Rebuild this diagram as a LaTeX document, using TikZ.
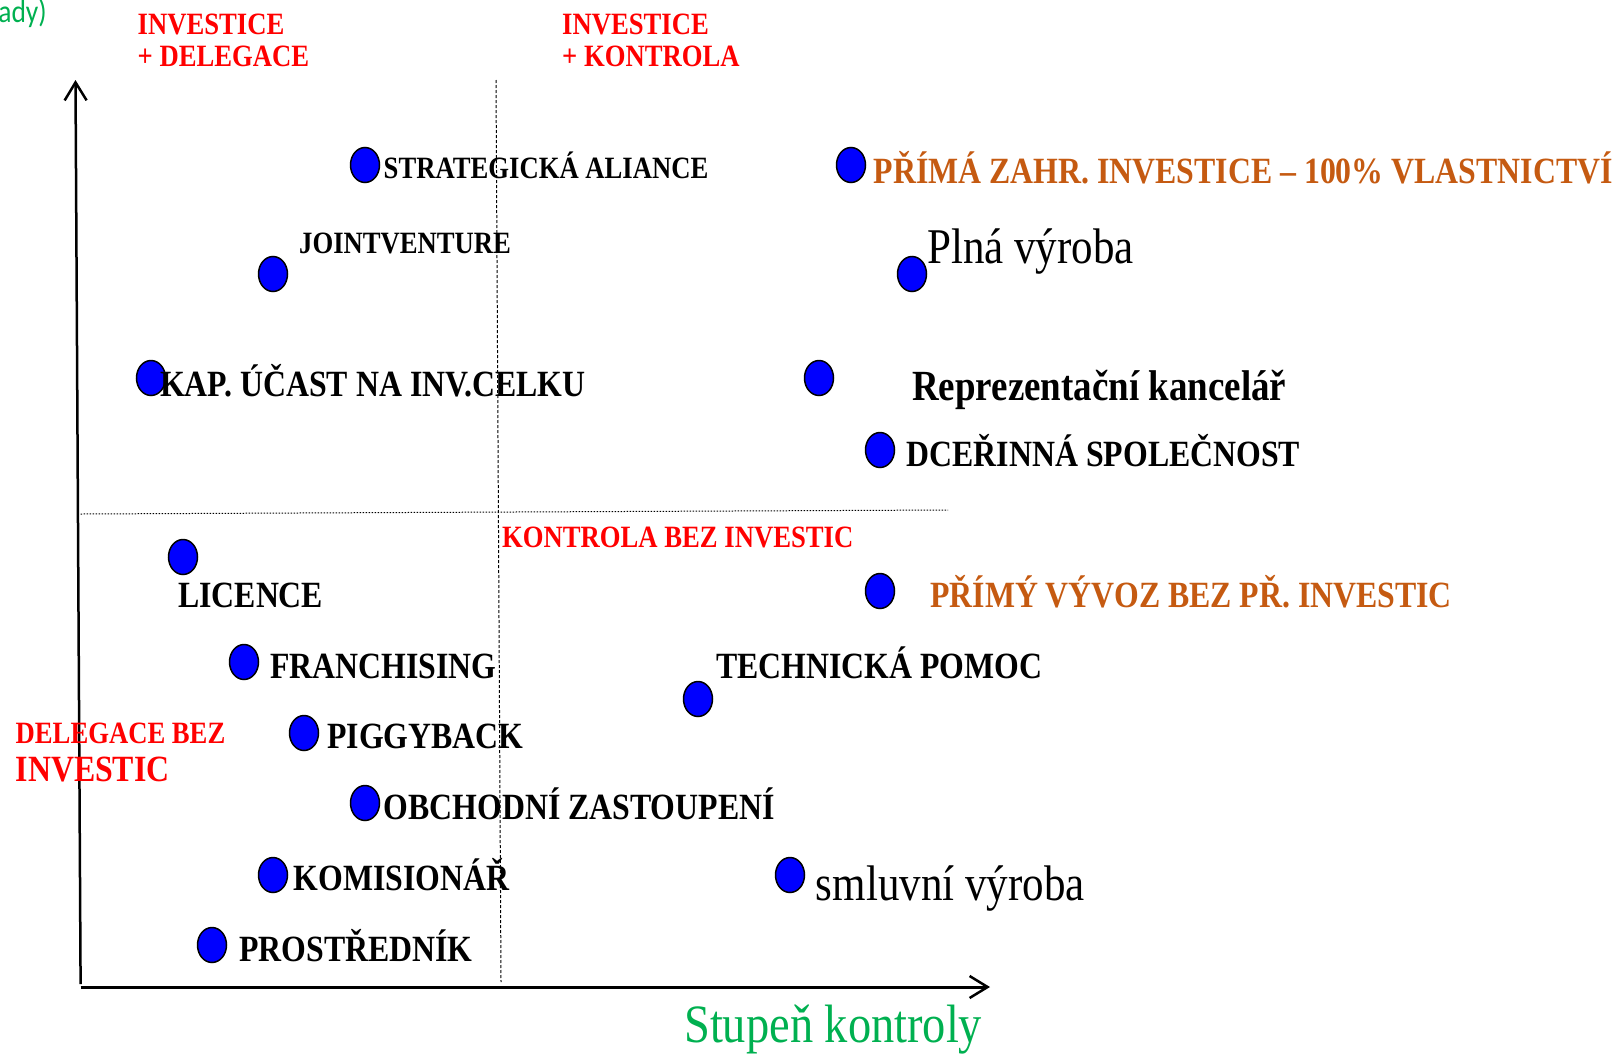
\documentclass[tikz,border=0pt]{standalone}
\usepackage{fontspec}
\setmainfont{Liberation Serif}[FakeStretch=0.86]
\newfontfamily\calfont{Carlito}[FakeStretch=0.86]
\usetikzlibrary{shapes.geometric,arrows.meta}
\definecolor{dotblue}{RGB}{0,0,255}
\definecolor{lblred}{RGB}{255,0,0}
\definecolor{lblorange}{RGB}{197,90,17}
\definecolor{lblgreen}{RGB}{0,176,80}
\tikzset{
  pt/.style={ellipse, draw=black, line width=1.5pt, fill=dotblue,
    minimum width=29pt, minimum height=35pt, inner sep=0pt},
  lbl/.style={anchor=base west, inner sep=0pt, text=black,
    font=\bfseries\fontsize{#1}{#1}\selectfont},
  lbl/.default=37,
  rlbl/.style={lbl=#1, text=lblred},
  rlbl/.default=31,
  olbl/.style={lbl=37, text=lblorange},
  plain/.style={anchor=base west, inner sep=0pt, text=black,
    font=\mdseries\fontsize{#1}{#1}\selectfont},
  plain/.default=50,
  axis/.style={line width=2.5pt, -{Straight Barb[length=18pt,width=22pt,line width=2.5pt]}},
  vgrid/.style={line width=1pt, dash pattern=on 3pt off 2pt},
  hgrid/.style={line width=1pt, dash pattern=on 1.5pt off 1.5pt},
}
\begin{document}
\begin{tikzpicture}[x=1pt,y=-1pt]
\useasboundingbox (0,0) rectangle (1621,1055);
% axes and grid
\coordinate (o) at (80.6,984);
\coordinate (ytop) at (75.5,80);
\coordinate (xend) at (990,987);
\coordinate (xstart) at (80.6,987);
\coordinate (vtop) at (496,80);
\coordinate (vbot) at (501,982);
\coordinate (hl) at (80.6,514);
\coordinate (hr) at (948,510);
\draw[vgrid] (vtop) -- (vbot);
\draw[hgrid] (hl) -- (hr);
\draw[axis] (o) -- (ytop);
\draw[axis, line width=3pt] (xstart) -- (xend);
% dots
\node[pt] (d1) at (365,165) {};
\node[pt] (d2) at (273,274) {};
\node[pt] (d3) at (151,378) {};
\node[pt] (d4) at (851,165) {};
\node[pt] (d5) at (912,274) {};
\node[pt] (d6) at (819,378) {};
\node[pt] (d7) at (880,450) {};
\node[pt] (d8) at (183,557) {};
\node[pt] (d9) at (880,591) {};
\node[pt] (d10) at (244,662) {};
\node[pt] (d11) at (698,699) {};
\node[pt] (d12) at (304,733) {};
\node[pt] (d13) at (365,803) {};
\node[pt] (d14) at (273,875) {};
\node[pt] (d15) at (790,875) {};
\node[pt] (d16) at (212,945) {};
% red quadrant labels
\node[rlbl] (q1a) at (137.5,34.5) {INVESTICE};
\node[rlbl] (q1b) at (137.5,66.5) {+ DELEGACE};
\node[rlbl] (q2a) at (562,34.5) {INVESTICE};
\node[rlbl] (q2b) at (562,66.5) {+ KONTROLA};
\node[rlbl] (q3) at (502,547.5) {KONTROLA BEZ INVESTIC};
\node[rlbl] (q4a) at (15.5,743.5) {DELEGACE BEZ};
\node[rlbl=37] (q4b) at (15.5,781) {INVESTIC};
% labels
\node[lbl=31] (l1) at (383.5,178) {STRATEGICKÁ ALIANCE};
\node[lbl=31] (l2) at (299,253) {JOINTVENTURE};
\node[lbl=37] (l3) at (160,396) {KAP. ÚČAST NA INV.CELKU};
\node[olbl] (l4) at (873.5,183) {PŘÍMÁ ZAHR. INVESTICE – 100\% VLASTNICTVÍ};
\node[plain] (l5) at (927,263) {Plná výroba};
\node[lbl=43] (l6) at (912,400) {Reprezentační kancelář};
\node[lbl] (l7) at (906.6,466) {DCEŘINNÁ SPOLEČNOST};
\node[lbl] (l8) at (178,607) {LICENCE};
\node[olbl] (l9) at (930,607) {PŘÍMÝ VÝVOZ BEZ PŘ. INVESTIC};
\node[lbl] (l10) at (270,678) {FRANCHISING};
\node[lbl] (l11) at (716,678) {TECHNICKÁ POMOC};
\node[lbl] (l12) at (327,748) {PIGGYBACK};
\node[lbl] (l13) at (383.5,819) {OBCHODNÍ ZASTOUPENÍ};
\node[lbl] (l14) at (293.6,890) {KOMISIONÁŘ};
\node[plain] (l15) at (815.7,900) {smluvní výroba};
\node[lbl] (l16) at (239,961) {PROSTŘEDNÍK};
% axis title and clipped text
\node[plain=54, text=lblgreen] (xt) at (684,1042) {Stupeň kontroly};
\node[anchor=base east, inner sep=0pt, text=lblgreen, font=\calfont\fontsize{32}{32}\selectfont] (cut) at (47,22) {ady)};
\end{tikzpicture}
\end{document}
